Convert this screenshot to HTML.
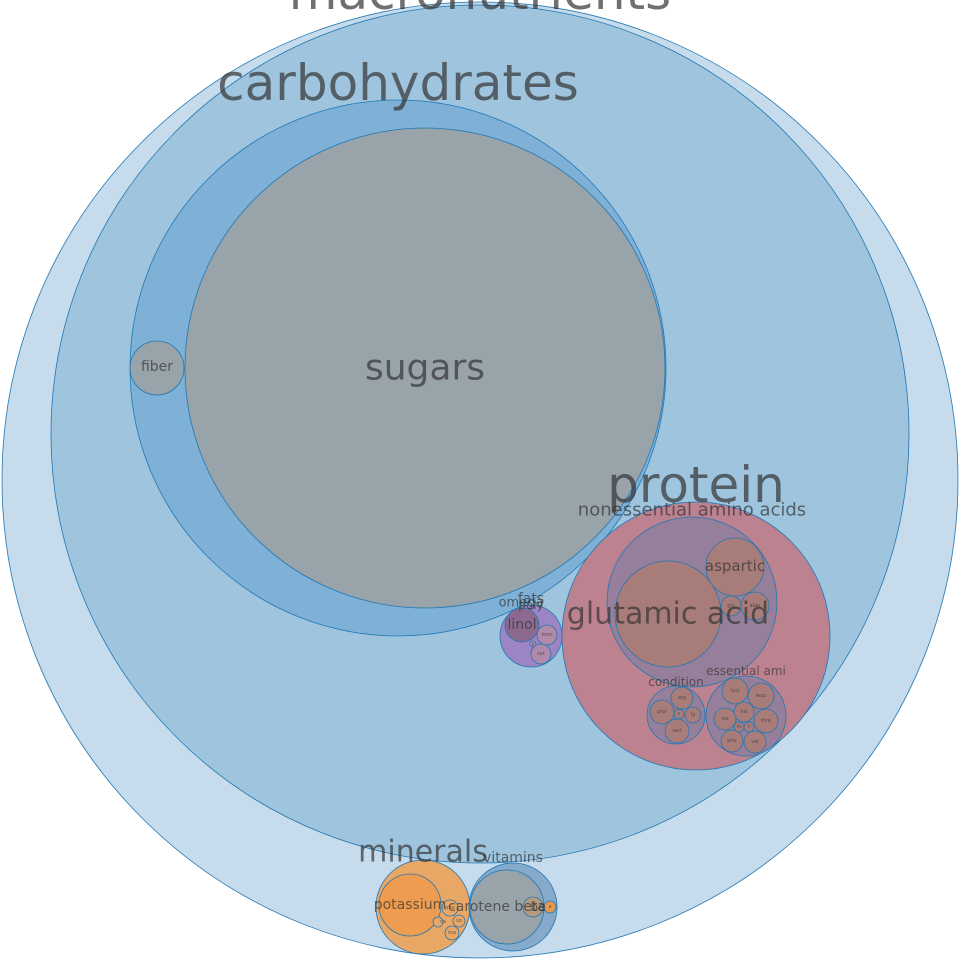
<!DOCTYPE html>
<html><head><meta charset="utf-8"><style>
html,body{margin:0;padding:0;background:#fff}
svg{display:block}
text{font-family:"DejaVu Sans","Liberation Sans",sans-serif;text-anchor:middle;dominant-baseline:central;fill:#333;fill-opacity:.7}
circle{stroke:#1f77b4;stroke-width:.8}
</style></head><body>
<svg id="chart" width="960" height="960" viewBox="0 0 960 960"></svg>
<script>
// name, cx, cy, r, fill, label font size, label dy
const names=["macronutrients","carbohydrates","carb-inner","sugars","fiber","protein","nonessential amino acids","glutamic acid","aspartic","gly","alan","condition","arg","prol","c","ty","seri","essential ami","lysi","leuc","his","iso","thre","m","t","phe","val","fats","linol","mon","p","sat","minerals","potassium","pho","ca","so","ma","vitamins","carotene beta","be","a"];
const cxs=[480,480,398,425,157,696,692,668,735,731,755,676,682,662,679,693,677,746,735,761,744,725,766,739,749,732,755,531,522,547,533,541,423,410,450,438,459,452,513,507,533,550];
const cys=[480,434,368,368,368,636,602,614,567,606,606,715,698,712,714,715,731,716,691,696,712,719,721,727,727,741,742,636,625,635,644,654,907,905,908,922,921,933,907,907,907,907];
const rs=[478,429,268,240,27,134,85,53,29,10,14,29,11,12,5,8,12,40,13,13,10,11,12,5,5,11,11,31,17,10,3,10,47,31,8,5,6,7,44,37,10,6];
const fills=["#c6dbeb","#9ec4de","#7fb0d6","#98a4aa","#98a4aa","#bd8290","#967f9a","#a87c78","#a87c78","#a87c78","#a87c78","#967f9a","#a87c78","#a87c78","#a87c78","#a87c78","#a87c78","#967f9a","#a87c78","#a87c78","#a87c78","#a87c78","#a87c78","#a87c78","#a87c78","#a87c78","#a87c78","#9c85c2","#8c6a90","#b08aa8","#b08aa8","#b08aa8","#e9a765","#ee9d50","#e9a765","#e9a765","#e9a765","#e9a765","#85aacb","#98a4aa","#b59c80","#e39a50"];
const labelSizes=[50,50,0,36,14,50,18,30,15,5,5,12,5,5,5,5,5,12,5,5,5,5,5,5,5,5,5,14,14,5,4,5,30,14,5,5,5,5,14,14,12,5];
const labelX=[480,398,0,425,157,696,692,668,735,731,755,676,682,662,679,693,677,746,735,761,744,725,766,739,749,732,755,531,522,547,533,541,423,410,450,443,459,452,513,497,538,550];
const labelY=[-8,83,0,368,367,485,510,614,566,606,606,682,698,712,714,715,731,671,691,696,712,719,721,727,727,741,742,599,625,635,644,654,852,905,908,922,921,933,858,907,907,907];
const svg=document.getElementById('chart');
const NS='http://www.w3.org/2000/svg';
for(let i=0;i<names.length;i++){
  const c=document.createElementNS(NS,'circle');
  c.setAttribute('cx',cxs[i]);c.setAttribute('cy',cys[i]);c.setAttribute('r',rs[i]);
  c.setAttribute('fill',fills[i]);
  
  
  svg.appendChild(c);
}
for(let i=0;i<names.length;i++){
  if(!labelSizes[i])continue;
  const t=document.createElementNS(NS,'text');
  t.setAttribute('x',labelX[i]);t.setAttribute('y',labelY[i]);
  t.setAttribute('font-size',labelSizes[i]);
  t.textContent=names[i];
  
  
  svg.appendChild(t);
}
const extra=[["omega",521,603,13],["poly",531,605,12]];
extra.forEach(e=>{
  const t=document.createElementNS(NS,'text');
  t.setAttribute('x',e[1]);t.setAttribute('y',e[2]);t.setAttribute('font-size',e[3]);
  t.textContent=e[0];
  
  
  svg.appendChild(t);
});
</script>
</body></html>
